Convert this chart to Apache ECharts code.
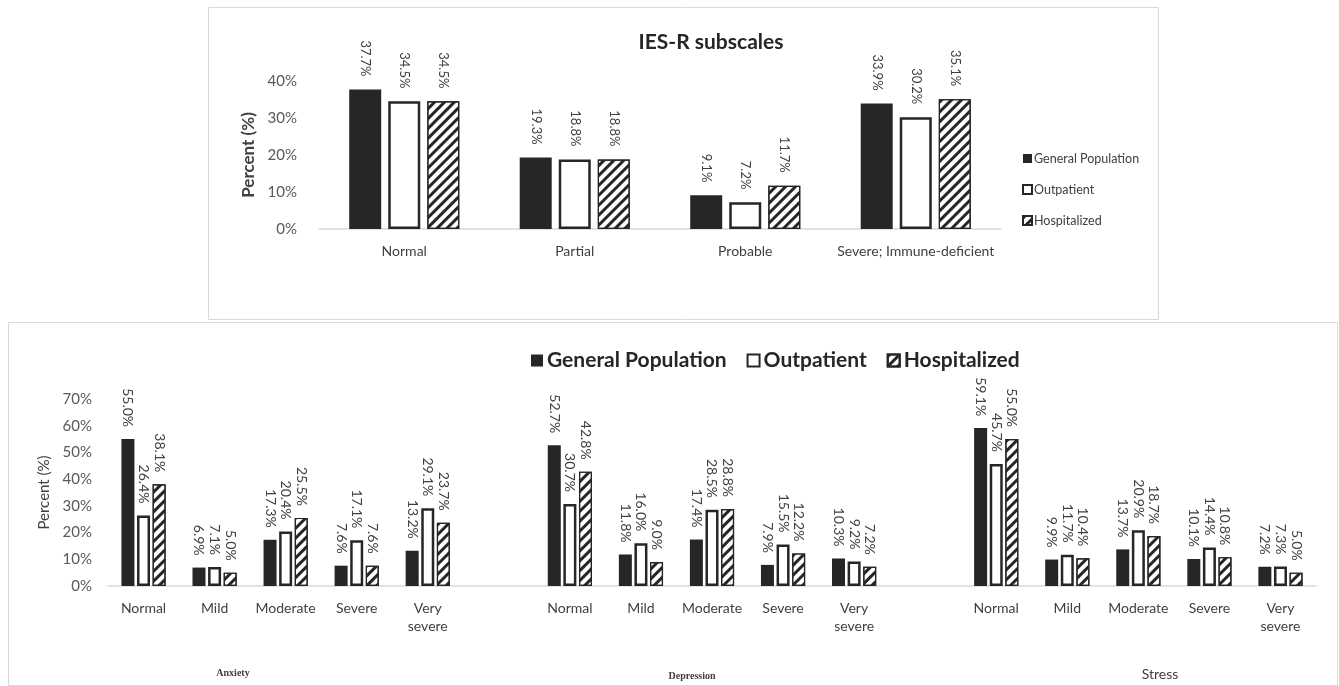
<!DOCTYPE html>
<html>
<head>
<meta charset="utf-8">
<script src="https://cdn.jsdelivr.net/npm/echarts@6/dist/echarts.min.js"></script>
<style>
  html, body { margin: 0; padding: 0; background: #fff; }
  #chart { width: 1339px; height: 686px; }
</style>
</head>
<body>
<div id="chart"></div>
<script>
// top panel: IES-R subscales
const iesCategories = ['Normal', 'Partial', 'Probable', 'Severe; Immune-deficient'];
const iesGeneral = [37.7, 19.3, 9.1, 33.9];
const iesOutpatient = [34.5, 18.8, 7.2, 30.2];
const iesHospitalized = [34.5, 18.8, 11.7, 35.1];
const iesTicks = [0, 10, 20, 30, 40];

// bottom panel: DASS levels
const levels = ['Normal', 'Mild', 'Moderate', 'Severe', 'Very\nsevere'];
const anxietyGeneral = [55.0, 6.9, 17.3, 7.6, 13.2];
const anxietyOutpatient = [26.4, 7.1, 20.4, 17.1, 29.1];
const anxietyHospitalized = [38.1, 5.0, 25.5, 7.6, 23.7];
const depressionGeneral = [52.7, 11.8, 17.4, 7.9, 10.3];
const depressionOutpatient = [30.7, 16.0, 28.5, 15.5, 9.2];
const depressionHospitalized = [42.8, 9.0, 28.8, 12.2, 7.2];
const stressGeneral = [59.1, 9.9, 13.7, 10.1, 7.2];
const stressOutpatient = [45.7, 11.7, 20.9, 14.4, 7.3];
const stressHospitalized = [55.0, 10.4, 18.7, 10.8, 5.0];
const dassTicks = [0, 10, 20, 30, 40, 50, 60, 70];

const seriesNames = ['General Population', 'Outpatient', 'Hospitalized'];

// join the three groups with an empty category between them
function joinGroups(a, b, c) {
    return a.concat([null], b, [null], c);
}
const dassCategories = levels.concat([''], levels, [''], levels);
const dassGeneral = joinGroups(anxietyGeneral, depressionGeneral, stressGeneral);
const dassOutpatient = joinGroups(anxietyOutpatient, depressionOutpatient, stressOutpatient);
const dassHospitalized = joinGroups(anxietyHospitalized, depressionHospitalized, stressHospitalized);

const FONT = 'Lato, "Open Sans", sans-serif';
const dark = '#262626';

const styles = [
    { color: dark },
    { color: '#fff', borderColor: dark, borderWidth: 2.5 },
    {
        color: '#fff', borderColor: dark, borderWidth: 1.2,
        decal: {
            symbol: 'rect', symbolSize: 1, color: dark,
            dashArrayX: [1, 0], dashArrayY: [3, 3.5], rotation: -Math.PI / 4
        }
    }
];

function pctLabel(size, dist) {
    return {
        show: true,
        position: 'top',
        rotate: -90,
        align: 'right',
        verticalAlign: 'middle',
        distance: dist,
        fontFamily: FONT,
        fontSize: size,
        color: '#404040',
        formatter: p => p.value.toFixed(1) + '%'
    };
}

let myChart = echarts.init(document.getElementById('chart'));
myChart.setOption({
    animation: false,
    textStyle: { fontFamily: FONT },
    graphic: [
        { type: 'rect', shape: { x: 208.5, y: 7.5, width: 950, height: 312 }, style: { fill: 'none', stroke: '#d9d9d9', lineWidth: 1 }, z: -1 },
        { type: 'rect', shape: { x: 8.5, y: 322.5, width: 1329, height: 363 }, style: { fill: 'none', stroke: '#d9d9d9', lineWidth: 1 }, z: -1 },
        { type: 'text', x: 233, y: 673, style: { text: 'Anxiety', font: 'bold 10px "Liberation Serif", serif', fill: '#404040', textAlign: 'center', textVerticalAlign: 'middle' } },
        { type: 'text', x: 692, y: 676, style: { text: 'Depression', font: 'bold 10px "Liberation Serif", serif', fill: '#404040', textAlign: 'center', textVerticalAlign: 'middle' } },
        { type: 'text', x: 1160, y: 674, style: { text: 'Stress', font: '14px ' + FONT, fill: '#404040', textAlign: 'center', textVerticalAlign: 'middle' } }
    ],
    title: {
        text: 'IES-R subscales',
        left: 706, top: 27,
        textAlign: 'center',
        textStyle: { fontFamily: FONT, fontSize: 21, fontWeight: 'bold', color: '#262626' }
    },
    legend: [
        {
            orient: 'vertical',
            left: 1017, top: 147,
            icon: 'rect',
            itemWidth: 9, itemHeight: 9,
            itemGap: 18,
            textStyle: { fontFamily: FONT, fontSize: 12.5, color: '#404040', padding: [0, 0, 0, -3] },
            data: seriesNames
        },
        {
            orient: 'horizontal',
            left: 526, top: 345,
            icon: 'rect',
            itemWidth: 12, itemHeight: 12,
            itemGap: 20,
            textStyle: { fontFamily: FONT, fontSize: 21, fontWeight: 'bold', color: '#262626', padding: [0, 0, 0, -1] },
            data: seriesNames
        }
    ],
    grid: [
        { left: 319, top: 81, width: 682, height: 148 },
        { left: 108, top: 399, width: 1208, height: 187 }
    ],
    xAxis: [
        {
            type: 'category', gridIndex: 0, data: iesCategories,
            axisLine: { lineStyle: { color: '#d9d9d9', width: 1.5 } },
            axisTick: { show: false },
            axisLabel: { interval: 0, margin: 15, fontSize: 14, color: '#404040' }
        },
        {
            type: 'category', gridIndex: 1, data: dassCategories,
            axisLine: { lineStyle: { color: '#d9d9d9', width: 1.5 } },
            axisTick: { show: false },
            axisLabel: { interval: 0, margin: 13, fontSize: 14, color: '#404040', lineHeight: 18 }
        }
    ],
    yAxis: [
        {
            type: 'value', gridIndex: 0, min: iesTicks[0], max: iesTicks[iesTicks.length - 1], interval: 10,
            axisLine: { show: false }, splitLine: { show: false },
            axisLabel: { margin: 22, fontSize: 15, color: '#595959', formatter: '{value}%' },
            name: 'Percent (%)', nameLocation: 'middle', nameGap: 58,
            nameTextStyle: { fontSize: 17, fontWeight: 'bold', color: '#404040' }
        },
        {
            type: 'value', gridIndex: 1, min: dassTicks[0], max: dassTicks[dassTicks.length - 1], interval: 10,
            axisLine: { show: false }, splitLine: { show: false },
            axisLabel: { margin: 16, fontSize: 15, color: '#595959', formatter: '{value}%' },
            name: 'Percent (%)', nameLocation: 'middle', nameGap: 52,
            nameTextStyle: { fontSize: 15, color: '#404040' }
        }
    ],
    series: [
        { name: seriesNames[0], type: 'bar', xAxisIndex: 0, yAxisIndex: 0, data: iesGeneral, barWidth: 32, barGap: '22%', itemStyle: styles[0], label: pctLabel(13, 13) },
        { name: seriesNames[1], type: 'bar', xAxisIndex: 0, yAxisIndex: 0, data: iesOutpatient, barWidth: 32, barGap: '22%', itemStyle: styles[1], label: pctLabel(13, 13) },
        { name: seriesNames[2], type: 'bar', xAxisIndex: 0, yAxisIndex: 0, data: iesHospitalized, barWidth: 32, barGap: '22%', itemStyle: styles[2], label: pctLabel(13, 13) },
        { name: seriesNames[0], type: 'bar', xAxisIndex: 1, yAxisIndex: 1, data: dassGeneral, barWidth: 13, barGap: '20%', itemStyle: styles[0], label: pctLabel(14, 12) },
        { name: seriesNames[1], type: 'bar', xAxisIndex: 1, yAxisIndex: 1, data: dassOutpatient, barWidth: 13, barGap: '20%', itemStyle: styles[1], label: pctLabel(14, 12) },
        { name: seriesNames[2], type: 'bar', xAxisIndex: 1, yAxisIndex: 1, data: dassHospitalized, barWidth: 13, barGap: '20%', itemStyle: styles[2], label: pctLabel(14, 12) }
    ]
});
window.onresize = function () {
    myChart.resize();
};
</script>
</body>
</html>
